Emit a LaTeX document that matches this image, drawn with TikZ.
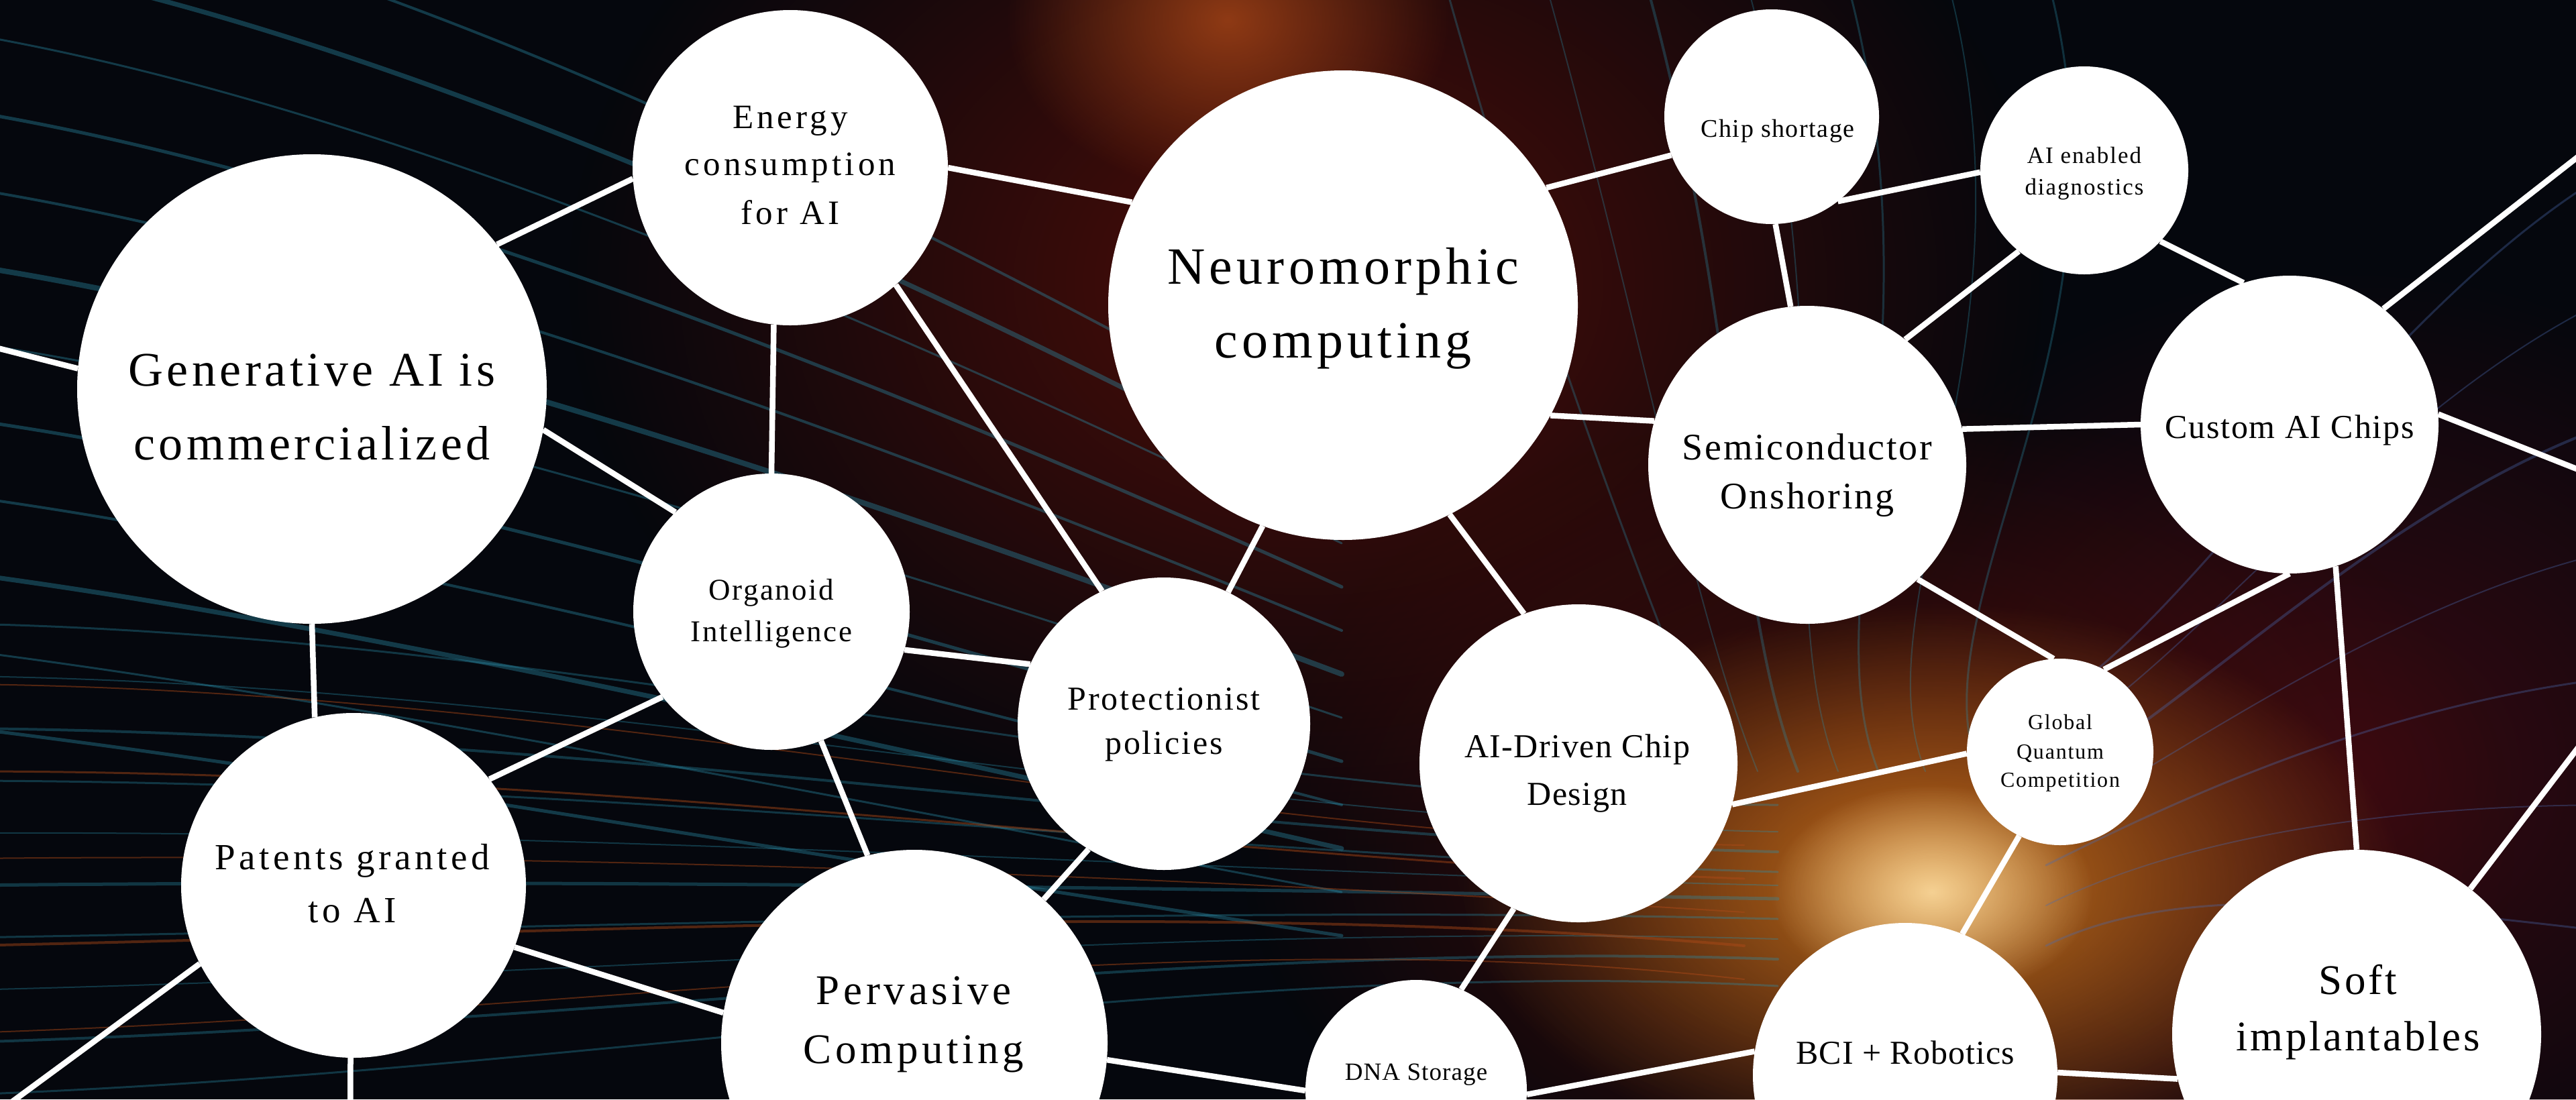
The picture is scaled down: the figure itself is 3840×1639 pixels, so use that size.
\documentclass[tikz,border=0pt]{standalone}
\usepackage{fontspec}
\setmainfont{Liberation Serif}
\usetikzlibrary{fadings}
\tikzfading[name=glowfade, inner color=transparent!0, outer color=transparent!100]
\definecolor{bgcol}{HTML}{05070D}
\definecolor{tealc}{HTML}{2A8FAA}
\definecolor{maroon}{HTML}{520E08}
\definecolor{maroonb}{HTML}{3A0A12}
\definecolor{glowc}{HTML}{E08A20}
\definecolor{glowin}{HTML}{FFE2A8}
\definecolor{emberc}{HTML}{B04A18}
\definecolor{bluec}{HTML}{4A6AB0}
\newcommand\bfnt[3]{\addfontfeatures{LetterSpace=#3}\fontsize{#1}{#2}\selectfont}
\tikzset{
  bubble/.style={circle, fill=white, draw=none, inner sep=0pt, minimum size=#1},
  link/.style={draw=white, line width=8.5pt},
  lbl/.style={anchor=base, inner sep=0pt, text=black},
  streak/.style={line width=#1, line cap=round},
}
\begin{document}
\begin{tikzpicture}[x=1pt, y=-1pt]
\useasboundingbox (0,0) rectangle (3840,1639);
\clip (0,0) rectangle (3840,1639);
% ---------- background ----------
\fill[bgcol] (0,0) rectangle (3840,1639);
\fill[maroon, path fading=glowfade, opacity=0.95] (1950,420) ellipse [x radius=1100, y radius=850];
\fill[maroonb, path fading=glowfade, opacity=0.95] (3500,1150) ellipse [x radius=850, y radius=750];
\fill[emberc, path fading=glowfade, opacity=0.75] (1830,30) ellipse [x radius=330, y radius=260];
\fill[maroon, path fading=glowfade, opacity=0.85] (2800,1250) ellipse [x radius=950, y radius=650];
\fill[glowc, path fading=glowfade, opacity=0.8] (2880,1320) ellipse [x radius=700, y radius=420];
\fill[glowin, path fading=glowfade, opacity=0.85] (2880,1330) ellipse [x radius=240, y radius=160];
% streaks upper left
\foreach \i/\w in {0/4,1/7,2/3,3/5,4/4,5/8,6/3,7/5,8/4,9/7,10/3,11/5}{
  \draw[streak=\w, tealc, opacity=0.38]
    (-50,-180+\i*115) .. controls (500,-80+\i*112) and (1200,230+\i*95) .. (2000,680+\i*65);
}
% streaks lower left running into the glow
\foreach \i/\w/\e in {0/3/1200,1/2/1240,2/4/1270,3/3/1300,4/2/1320,5/5/1340,6/3/1370,7/2/1400,8/4/1430,9/3/1470}{
  \draw[streak=\w, tealc, opacity=0.35]
    (-50,930+\i*78) .. controls (900,950+\i*72) and (1800,1200+\i*25) .. (2650,\e);
}
\foreach \i/\w/\e in {0/2/1260,1/3/1310,2/2/1360,3/4/1410,4/2/1460}{
  \draw[streak=\w, emberc, opacity=0.45]
    (-50,1020+\i*130) .. controls (900,1030+\i*120) and (1800,1250+\i*30) .. (2600,\e);
}
% streaks top right bending down
\foreach \x/\w/\e in {2150/3/2560,2300/2/2620,2450/4/2680,2600/2/2740,2750/3/2800,2900/2/2870,3050/3/2950}{
  \draw[streak=\w, tealc, opacity=0.3]
    (\x,-40) .. controls (\x+150,500) and (\e-100,900) .. (\e,1150);
}
% streaks right side
\foreach \i/\w/\e in {0/3/1050,1/2/1110,2/4/1170,3/2/1230,4/3/1290,5/2/1350,6/3/1410}{
  \draw[streak=\w, bluec, opacity=0.35]
    (3900,250+\i*190) .. controls (3550,450+\i*150) and (3250,\e-100) .. (3050,\e);
}
% ---------- free ends ----------
\coordinate (offgen) at (-200,469);
\coordinate (offpatbl) at (-196,1800);
\coordinate (offpatb) at (522,1800);
\coordinate (offcustr) at (4000,111);
\coordinate (offcusr) at (4000,762);
\coordinate (offsoft) at (4000,909);
% ---------- bubbles ----------
\node[bubble=700pt] (gen) at (465,580) {};
\node[bubble=470pt] (energy) at (1178,250) {};
\node[bubble=700pt] (neuro) at (2002,455) {};
\node[bubble=320pt] (chip) at (2641,174) {};
\node[bubble=310pt] (aien) at (3107,254) {};
\node[bubble=474pt] (semi) at (2694,693) {};
\node[bubble=444pt] (custom) at (3413,633) {};
\node[bubble=412pt] (organoid) at (1150,912) {};
\node[bubble=436pt] (protect) at (1735,1079) {};
\node[bubble=474pt] (aidriven) at (2353,1138) {};
\node[bubble=278pt] (globalq) at (3071,1121) {};
\node[bubble=514pt] (patents) at (527,1320) {};
\node[bubble=576pt] (pervasive) at (1363,1555) {};
\node[bubble=330pt] (dna) at (2111,1626) {};
\node[bubble=454pt] (bci) at (2840,1603) {};
\node[bubble=550pt] (soft) at (3513,1542) {};
% ---------- links ----------
\draw[link] (gen.38) -- (energy.184);
\draw[link] (gen.-10.7) -- (organoid.134);
\draw[link] (gen.270) -- (patents.103.7);
\draw[link] (energy.264) -- (organoid.90);
\draw[link] (energy.0) -- (neuro.154.3);
\draw[link] (energy.-48.7) -- (protect.115.4);
\draw[link] (organoid.-16) -- (protect.156.6);
\draw[link] (organoid.-69) -- (pervasive.104);
\draw[link] (organoid.218) -- (patents.38.9);
\draw[link] (patents.-21) -- (pervasive.171.7);
\draw[link] (protect.64) -- (neuro.250);
\draw[link] (protect.239.6) -- (pervasive.48.6);
\draw[link] (neuro.30.3) -- (chip.201);
\draw[link] (neuro.-28) -- (semi.164);
\draw[link] (neuro.-63) -- (aidriven.110);
\draw[link] (chip.-52) -- (aien.181.5);
\draw[link] (chip.272.5) -- (semi.96.5);
\draw[link] (aien.231) -- (semi.52);
\draw[link] (aien.-43) -- (custom.108);
\draw[link] (semi.13.7) -- (custom.180);
\draw[link] (semi.-46.4) -- (globalq.94.5);
\draw[link] (custom.270) -- (globalq.62);
\draw[link] (custom.-72) -- (soft.90);
\draw[link] (aidriven.-15.7) -- (globalq.181);
\draw[link] (aidriven.246.7) -- (dna.66);
\draw[link] (globalq.244) -- (bci.68);
\draw[link] (pervasive.-5.7) -- (dna.180);
\draw[link] (dna.-2) -- (bci.171);
\draw[link] (bci.1) -- (soft.194);
\draw[link] (gen.175.8) -- (offgen);
\draw[link] (patents.207.6) -- (offpatbl);
\draw[link] (patents.269) -- (offpatb);
\draw[link] (custom.51.5) -- (offcustr);
\draw[link] (custom.4) -- (offcusr);
\draw[link] (soft.52) -- (offsoft);
% ---------- texts ----------
\begin{scope}[every node/.style={lbl}]
\node[font={\bfnt{72}{110}{7.6}}] (gen-a) at (465,575) {Generative AI is};
\node[font={\bfnt{72}{110}{7.6}}] (gen-b) at (465,685) {commercialized};
\node[font={\bfnt{51}{71}{10}}] (energy-a) at (1178,191) {Energy};
\node[font={\bfnt{51}{71}{10}}] (energy-b) at (1178,261) {consumption};
\node[font={\bfnt{51}{71}{10}}] (energy-c) at (1178,334) {for AI};
\node[font={\bfnt{78}{110}{8}}] (neuro-a) at (2002,423) {Neuromorphic};
\node[font={\bfnt{78}{110}{8}}] (neuro-b) at (2002,533) {computing};
\node[font={\bfnt{38}{50}{4}}] (chip-a) at (2650,204) {Chip shortage};
\node[font={\bfnt{35}{47}{5.6}}] (aien-a) at (3107,243) {AI enabled};
\node[font={\bfnt{35}{47}{5.6}}] (aien-b) at (3107,290) {diagnostics};
\node[font={\bfnt{56}{73}{5}}] (semi-a) at (2694,685) {Semiconductor};
\node[font={\bfnt{56}{73}{5}}] (semi-b) at (2694,758) {Onshoring};
\node[font={\bfnt{50}{70}{3.6}}] (custom-a) at (3413,653) {Custom AI Chips};
\node[font={\bfnt{45}{62}{5.6}}] (organoid-a) at (1150,894) {Organoid};
\node[font={\bfnt{45}{62}{5.6}}] (organoid-b) at (1150,956) {Intelligence};
\node[font={\bfnt{50}{66}{5.7}}] (protect-a) at (1735,1058) {Protectionist};
\node[font={\bfnt{50}{66}{5.7}}] (protect-b) at (1735,1124) {policies};
\node[font={\bfnt{50}{71}{3}}] (aidriven-a) at (2351,1129) {AI-Driven Chip};
\node[font={\bfnt{50}{71}{3}}] (aidriven-b) at (2351,1200) {Design};
\node[font={\bfnt{32}{43}{5.6}}] (globalq-a) at (3071,1087) {Global};
\node[font={\bfnt{32}{43}{5.6}}] (globalq-b) at (3071,1131) {Quantum};
\node[font={\bfnt{32}{43}{5.6}}] (globalq-c) at (3071,1173) {Competition};
\node[font={\bfnt{55}{79}{10}}] (patents-a) at (525,1296) {Patents granted};
\node[font={\bfnt{55}{79}{10}}] (patents-b) at (525,1375) {to AI};
\node[font={\bfnt{63}{88}{9}}] (pervasive-a) at (1362,1497) {Pervasive};
\node[font={\bfnt{63}{88}{9}}] (pervasive-b) at (1362,1585) {Computing};
\node[font={\bfnt{37}{50}{3}}] (dna-a) at (2111,1610) {DNA Storage};
\node[font={\bfnt{50}{70}{2}}] (bci-a) at (2840,1586) {BCI + Robotics};
\node[font={\bfnt{63}{84}{6}}] (soft-a) at (3515,1482) {Soft};
\node[font={\bfnt{63}{84}{6}}] (soft-b) at (3515,1566) {implantables};
\end{scope}
\end{tikzpicture}
\end{document}
